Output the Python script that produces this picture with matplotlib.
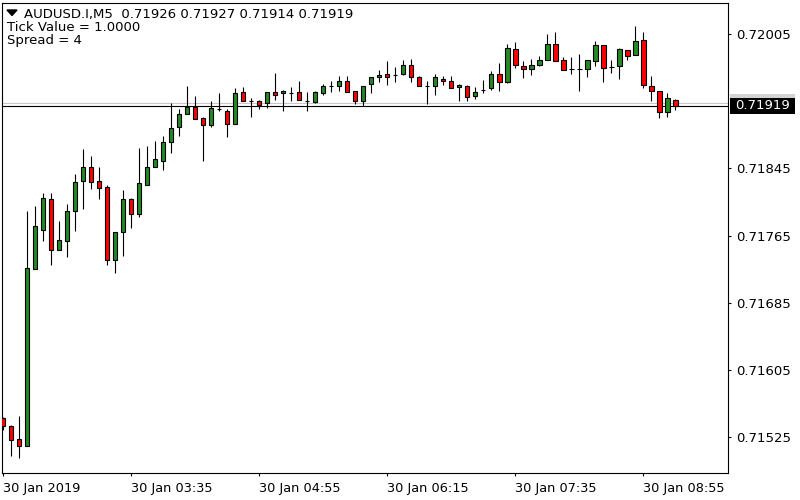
"""
MT4 style M5 candle chart of AUDUSD.I
"""

import matplotlib
matplotlib.use("Agg")
import matplotlib.pyplot as plt
from matplotlib.patches import Rectangle, Polygon
from matplotlib.transforms import blended_transform_factory

symbol = "AUDUSD.I,M5"
tick_value = "1.0000"
spread = 4

opens = [0.71548, 0.71538, 0.71523, 0.71515, 0.71725, 0.71772, 0.71809, 0.71748, 0.71759, 0.71794,
         0.71830, 0.71847, 0.71830, 0.71823, 0.71736, 0.71769, 0.71809, 0.71790, 0.71825, 0.71846,
         0.71854, 0.71876, 0.71894, 0.71910, 0.71918, 0.71905, 0.71896, 0.71915, 0.71913, 0.71897,
         0.71936, 0.71925, 0.71925, 0.71922, 0.71936, 0.71934, 0.71935, 0.71936, 0.71925, 0.71924,
         0.71935, 0.71943, 0.71943, 0.71949, 0.71937, 0.71925, 0.71945, 0.71954, 0.71957, 0.71956,
         0.71957, 0.71968, 0.71953, 0.71943, 0.71943, 0.71951, 0.71949, 0.71941, 0.71943, 0.71931,
         0.71938, 0.71940, 0.71957, 0.71948, 0.71987, 0.71967, 0.71963, 0.71968, 0.71974, 0.71993,
         0.71974, 0.71963, 0.71963, 0.71963, 0.71973, 0.71992, 0.71965, 0.71967, 0.71986, 0.71980,
         0.71997, 0.71943, 0.71937, 0.71912, 0.71926]
highs = [0.71549, 0.71540, 0.71551, 0.71794, 0.71800, 0.71815, 0.71815, 0.71782, 0.71802, 0.71838,
         0.71868, 0.71860, 0.71847, 0.71825, 0.71769, 0.71819, 0.71810, 0.71869, 0.71871, 0.71877,
         0.71883, 0.71923, 0.71915, 0.71943, 0.71931, 0.71906, 0.71925, 0.71935, 0.71915, 0.71940,
         0.71941, 0.71928, 0.71926, 0.71936, 0.71958, 0.71938, 0.71942, 0.71949, 0.71936, 0.71937,
         0.71945, 0.71949, 0.71955, 0.71955, 0.71937, 0.71943, 0.71954, 0.71962, 0.71972, 0.71965,
         0.71974, 0.71975, 0.71955, 0.71949, 0.71957, 0.71955, 0.71955, 0.71945, 0.71944, 0.71942,
         0.71950, 0.71961, 0.71970, 0.71993, 0.71995, 0.71973, 0.71975, 0.71979, 0.72004, 0.72007,
         0.71977, 0.71977, 0.71981, 0.71974, 0.71996, 0.71992, 0.71974, 0.71988, 0.71986, 0.72014,
         0.72007, 0.71955, 0.71937, 0.71934, 0.71927]
lows = [0.71534, 0.71503, 0.71501, 0.71515, 0.71725, 0.71758, 0.71730, 0.71748, 0.71739, 0.71770,
        0.71797, 0.71820, 0.71809, 0.71730, 0.71720, 0.71741, 0.71774, 0.71787, 0.71825, 0.71846,
        0.71843, 0.71863, 0.71883, 0.71910, 0.71904, 0.71854, 0.71894, 0.71913, 0.71882, 0.71897,
        0.71925, 0.71906, 0.71916, 0.71917, 0.71926, 0.71913, 0.71925, 0.71926, 0.71913, 0.71922,
        0.71932, 0.71936, 0.71937, 0.71936, 0.71921, 0.71919, 0.71935, 0.71948, 0.71944, 0.71947,
        0.71956, 0.71947, 0.71943, 0.71921, 0.71932, 0.71944, 0.71940, 0.71925, 0.71925, 0.71927,
        0.71935, 0.71938, 0.71937, 0.71946, 0.71964, 0.71952, 0.71956, 0.71966, 0.71974, 0.71973,
        0.71962, 0.71957, 0.71937, 0.71954, 0.71967, 0.71947, 0.71958, 0.71951, 0.71974, 0.71980,
        0.71940, 0.71925, 0.71905, 0.71906, 0.71914]
closes = [0.71539, 0.71522, 0.71515, 0.71726, 0.71776, 0.71810, 0.71748, 0.71760, 0.71794, 0.71829,
          0.71847, 0.71829, 0.71822, 0.71736, 0.71769, 0.71809, 0.71790, 0.71827, 0.71846, 0.71856,
          0.71876, 0.71893, 0.71909, 0.71918, 0.71904, 0.71896, 0.71917, 0.71915, 0.71898, 0.71935,
          0.71925, 0.71925, 0.71920, 0.71936, 0.71932, 0.71937, 0.71935, 0.71926, 0.71925, 0.71936,
          0.71943, 0.71943, 0.71949, 0.71936, 0.71925, 0.71943, 0.71954, 0.71956, 0.71954, 0.71956,
          0.71968, 0.71954, 0.71943, 0.71943, 0.71953, 0.71949, 0.71940, 0.71944, 0.71930, 0.71936,
          0.71938, 0.71957, 0.71948, 0.71988, 0.71968, 0.71963, 0.71968, 0.71974, 0.71993, 0.71973,
          0.71962, 0.71963, 0.71963, 0.71974, 0.71992, 0.71964, 0.71965, 0.71987, 0.71979, 0.71996,
          0.71944, 0.71937, 0.71912, 0.71928, 0.71919]

time_labels = ["30 Jan 2019", "30 Jan 03:35", "30 Jan 04:55",
               "30 Jan 06:15", "30 Jan 07:35", "30 Jan 08:55"]
time_label_bars = [0, 16, 32, 48, 64, 80]
price_ticks = [0.72005, 0.71845, 0.71765, 0.71685, 0.71605, 0.71525]

W, H = 800, 500
FS = 9.5
FS_TIME = 9.3
plt.rcParams["font.family"] = ["DejaVu Sans"]


def px_rect(x0, y0, w, h):
    # pixel box (top-left origin) -> figure fraction
    return [x0 / W, 1 - (y0 + h) / H, w / W, h / H]


def main():
    fig = plt.figure(figsize=(W / 100, H / 100), dpi=100)
    ax = fig.add_axes(px_rect(2, 2.7, 726, 470))

    for i, (o, hi, lo, c) in enumerate(zip(opens, highs, lows, closes)):
        ax.vlines(i, lo, hi, color="black", lw=0.8, zorder=2)
        if c > o:
            col = "#228b22"
        elif c < o:
            col = "#ff0000"
        else:
            col = "black"
        ax.bar(i, abs(c - o), bottom=min(o, c), width=0.52, color=col,
               edgecolor="black", lw=0.8, zorder=3)

    bid = closes[-1]
    ask = bid + spread * 0.00001
    ax.axhline(ask, color="#c8c8c8", lw=0.8, zorder=1)
    ax.axhline(bid, color="black", lw=0.8, zorder=1)

    ax.set_xlim(-0.15, 90.56)
    ax.set_ylim(0.71483, 0.720418)

    ax.set_xticks(time_label_bars)
    ax.set_xticklabels(time_labels, ha="left")
    ax.yaxis.tick_right()
    ax.set_yticks(price_ticks)
    ax.set_yticklabels(["%.5f" % p for p in price_ticks])
    ax.tick_params(axis="x", direction="out", length=2.5, width=0.8, pad=4, labelsize=FS_TIME)
    ax.tick_params(axis="y", direction="out", length=2.5, width=0.8, pad=3, labelsize=FS)
    for s in ax.spines.values():
        s.set_linewidth(0.8)
        s.set_color("black")

    # price labels on the right axis
    tr = blended_transform_factory(fig.transFigure, ax.transData)
    box_h = 0.000198
    fig.add_artist(Rectangle((730 / W, ask - box_h / 2), 65 / W, box_h,
                             transform=tr, color="#d3d3d3", lw=0))
    fig.add_artist(Rectangle((730 / W, bid - box_h / 2), 65 / W, box_h,
                             transform=tr, color="black", lw=0))
    fig.text(735 / W, bid, "%.5f" % bid, transform=tr, color="white",
             fontsize=FS, va="center", ha="left")

    # header in the top left corner
    fig.add_artist(Polygon([(7 / W, 1 - 10 / H), (17 / W, 1 - 10 / H), (12 / W, 1 - 15.5 / H)],
                           closed=True, transform=fig.transFigure, color="black"))
    header = "%s  %.5f %.5f %.5f %.5f" % (symbol, opens[-1], highs[-1], lows[-1], closes[-1])
    fig.text(24 / W, 1 - 18 / H, header, fontsize=FS, va="baseline")
    fig.text(7 / W, 1 - 31 / H, "Tick Value = " + tick_value, fontsize=FS, va="baseline")
    fig.text(7 / W, 1 - 44 / H, "Spread = %d" % spread, fontsize=FS, va="baseline")

    fig.savefig("out.png", dpi=100, facecolor="white")


if __name__ == '__main__':
    main()
